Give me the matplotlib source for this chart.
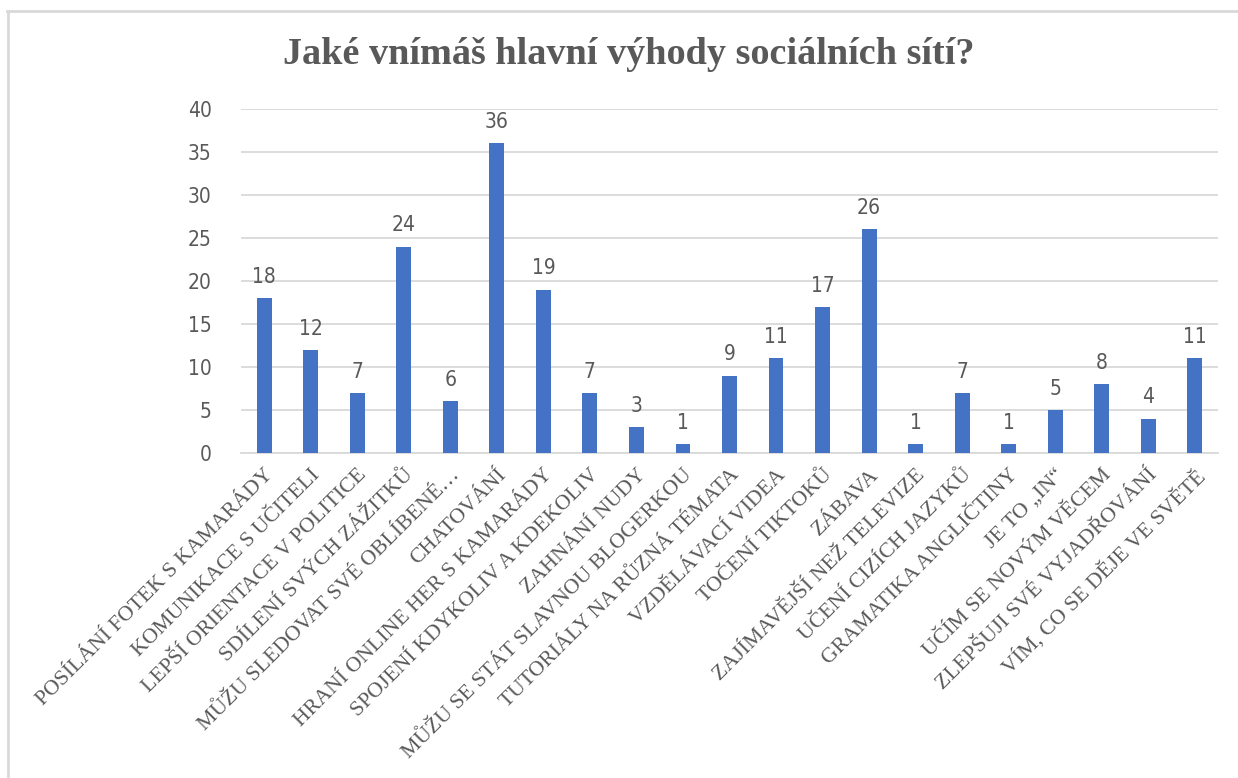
import matplotlib.pyplot as plt
from matplotlib.lines import Line2D

# survey answers (Czech) and counts
categories = [
    'POSÍLÁNÍ FOTEK S KAMARÁDY',
    'KOMUNIKACE S UČITELI',
    'LEPŠÍ ORIENTACE V POLITICE',
    'SDÍLENÍ SVÝCH ZÁŽITKŮ',
    'MŮŽU SLEDOVAT SVÉ OBLÍBENÉ…',
    'CHATOVÁNÍ',
    'HRANÍ ONLINE HER S KAMARÁDY',
    'SPOJENÍ KDYKOLIV A KDEKOLIV',
    'ZAHNÁNÍ NUDY',
    'MŮŽU SE STÁT SLAVNOU BLOGERKOU',
    'TUTORIÁLY NA RŮZNÁ TÉMATA',
    'VZDĚLÁVACÍ VIDEA',
    'TOČENÍ TIKTOKŮ',
    'ZÁBAVA',
    'ZAJÍMAVĚJŠÍ NEŽ TELEVIZE',
    'UČENÍ CIZÍCH JAZYKŮ',
    'GRAMATIKA ANGLIČTINY',
    'JE TO „IN“',
    'UČÍM SE NOVÝM VĚCEM',
    'ZLEPŠUJI SVÉ VYJADŘOVÁNÍ',
    'VÍM, CO SE DĚJE VE SVĚTĚ',
]
counts = [18, 12, 7, 24, 6, 36, 19, 7, 3, 1, 9, 11, 17, 26, 1, 7, 1, 5, 8, 4, 11]
y_ticks = [0, 5, 10, 15, 20, 25, 30, 35, 40]

title = 'Jaké vnímáš hlavní výhody sociálních sítí?'

text_grey = '#595959'
bar_blue = '#4472C4'
grid_grey = '#d9d9d9'
sans = ['DejaVu Sans']
serif = ['Liberation Serif', 'DejaVu Serif']

fig = plt.figure(figsize=(12.38, 7.78), dpi=100)
ax = fig.add_axes([241 / 1238, 1 - 453 / 778, (1218 - 241) / 1238, (453 - 109) / 778])

x = list(range(len(categories)))
ax.bar(x, counts, width=0.32, color=bar_blue, zorder=3)

ax.set_xlim(-0.5, len(categories) - 0.5)
ax.set_ylim(0, 40)
ax.set_yticks(y_ticks)
ax.set_yticklabels([str(v) for v in y_ticks], family=sans, stretch='condensed',
                   fontsize=15, color=text_grey)
ax.grid(True, axis='y', color=grid_grey, linewidth=1.3, zorder=0)
ax.tick_params(axis='both', length=0)
ax.tick_params(axis='y', pad=21)

for s in ['top', 'right', 'left']:
    ax.spines[s].set_visible(False)
ax.spines['bottom'].set_color(grid_grey)
ax.spines['bottom'].set_linewidth(1.3)

ax.set_xticks(x)
ax.set_xticklabels(categories, rotation=45, ha='right', va='top',
                   rotation_mode='anchor', family=serif, fontsize=15.7, color=text_grey)
ax.tick_params(axis='x', pad=9)

# value labels over the bars
for xi, v in zip(x, counts):
    ax.annotate(str(v), (xi, v), xytext=(0, 8), textcoords='offset points',
                ha='center', va='bottom', family=sans, stretch='condensed',
                fontsize=15, color=text_grey)

fig.text(0.508, 1 - 55 / 778, title, ha='center', va='center',
         family=serif, fontweight='bold', fontsize=27.5, color=text_grey)

# chart frame (top and left edge visible)
fig.add_artist(Line2D([7 / 1238, 1], [1 - 11 / 778, 1 - 11 / 778],
                      transform=fig.transFigure, color=grid_grey, linewidth=2))
fig.add_artist(Line2D([8 / 1238, 8 / 1238], [0, 1 - 11 / 778],
                      transform=fig.transFigure, color=grid_grey, linewidth=2))

fig.savefig('out.png', dpi=100)
